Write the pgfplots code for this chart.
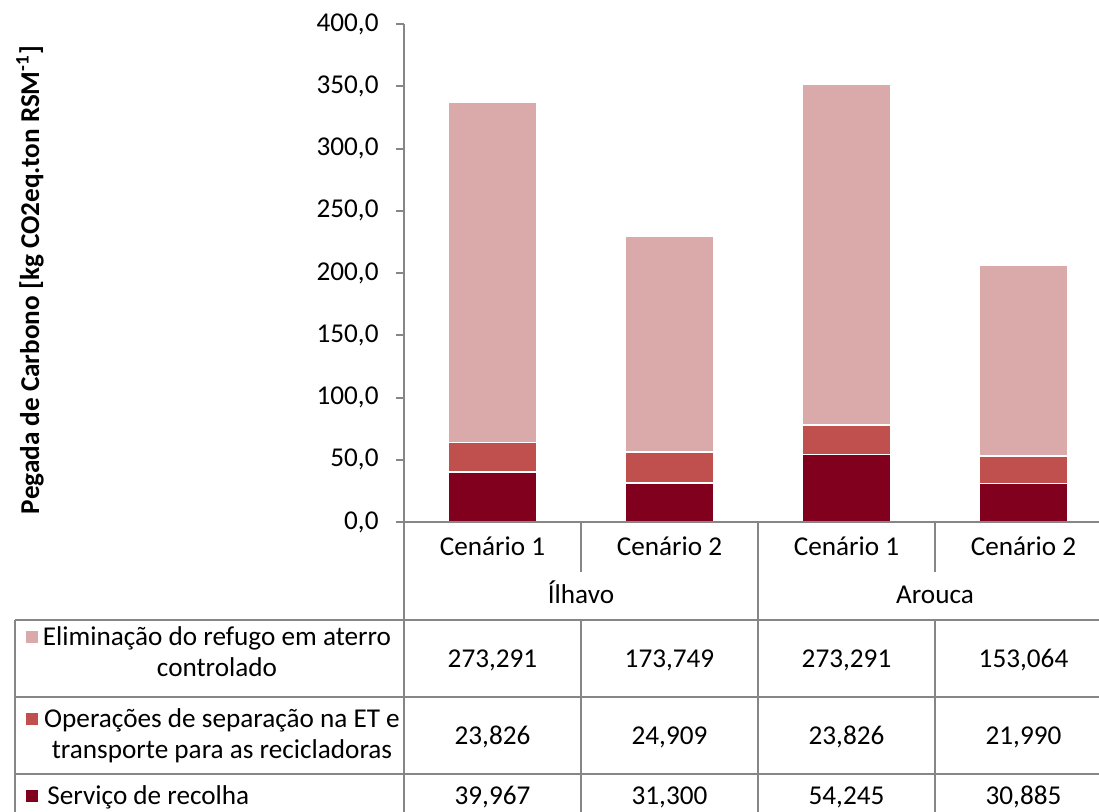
\documentclass[border=0pt]{standalone}
\usepackage{fontspec}
\setmainfont{Carlito}
\usepackage{pgfplots}
\pgfplotsset{compat=1.18}
\usepackage{pgfplotstable}

\definecolor{recolha}{RGB}{128,0,30}
\definecolor{separacao}{RGB}{192,80,77}
\definecolor{aterro}{RGB}{218,169,169}
\definecolor{linegray}{RGB}{134,134,134}

% Pegada de carbono por componente (kg CO2eq por ton RSM)
\pgfplotstableread{
x recolha separacao aterro
0 39.967 23.826 273.291
1 31.300 24.909 173.749
2 54.245 23.826 273.291
3 30.885 21.990 153.064
}\carbono

\newcommand{\chartfont}{\fontsize{13.6}{16}\selectfont}

\begin{document}
\chartfont
\begin{tikzpicture}
% page area: 1099 x 811 units of 0.5pt, origin of the axis at (404,522)
\useasboundingbox (-202pt,-144.5pt) rectangle (347.5pt,261pt);
\clip (-202pt,-144.5pt) rectangle (347.5pt,261pt);

\begin{axis}[
  at={(0pt,0pt)}, anchor=south west,
  scale only axis, width=354pt, height=249pt,
  xmin=-0.5, xmax=3.5, ymin=0, ymax=400,
  ybar stacked, bar width=0.503,
  axis lines*=left,
  axis line style={linegray, line width=1pt},
  xtick=\empty,
  ytick={0,50,...,400},
  tick align=outside, major tick length=4pt,
  tick style={linegray, line width=1pt},
  yticklabel style={font=\chartfont, text=black, xshift=-4pt,
    /pgf/number format/.cd, fixed, fixed zerofill, precision=1, use comma, assume math mode=true},
  every axis plot/.append style={draw=white, line width=0.8pt},
]
\addplot[fill=recolha] table[x=x, y=recolha] {\carbono};
\addplot[fill=separacao] table[x=x, y=separacao] {\carbono};
\addplot[fill=aterro] table[x=x, y=aterro] {\carbono};
\end{axis}

\begin{scope}[shift={(-202pt,261pt)}, x=0.5pt, y=-0.5pt]
  % y-axis title
  \node[rotate=90, font=\chartfont\bfseries] at (30,280)
    {Pegada de Carbono [kg CO2eq.ton RSM\textsuperscript{-1}]};

  % data table grid
  \begin{scope}[draw=linegray, line width=1pt]
    \draw (404,522) -- (1112,522);
    \draw (15,620) -- (1112,620);
    \draw (15,697) -- (1112,697);
    \draw (15,774) -- (1112,774);
    \draw (15,816) -- (1112,816);
    \draw (15,620) -- (15,816);
    \draw (404,522) -- (404,816);
    \draw (581,522) -- (581,572);
    \draw (581,620) -- (581,816);
    \draw (758,522) -- (758,816);
    \draw (935,522) -- (935,572);
    \draw (935,620) -- (935,816);
  \end{scope}

  % category labels
  \begin{scope}[every node/.style={anchor=base, inner sep=0pt, font=\chartfont}]
    \node at (492.5,555) {Cenário 1};
    \node at (669.5,555) {Cenário 2};
    \node at (846.5,555) {Cenário 1};
    \node at (1023.5,555) {Cenário 2};
    \node at (581,603) {Ílhavo};
    \node at (935,603) {Arouca};

    % series names with their keys
    \node at (217,645) {Eliminação do refugo em aterro};
    \node at (217,676) {controlado};
    \node at (222,727) {Operações de separação na ET e};
    \node at (222,758) {transporte para as recicladoras};
    \node[anchor=base west] at (47,804) {Serviço de recolha};

    % values
    \node at (492.5,667) {273,291};
    \node at (669.5,667) {173,749};
    \node at (846.5,667) {273,291};
    \node at (1023.5,667) {153,064};
    \node at (492.5,744) {23,826};
    \node at (669.5,744) {24,909};
    \node at (846.5,744) {23,826};
    \node at (1023.5,744) {21,990};
    \node at (492.5,804) {39,967};
    \node at (669.5,804) {31,300};
    \node at (846.5,804) {54,245};
    \node at (1023.5,804) {30,885};
  \end{scope}

  \fill[aterro] (26,631) rectangle (38,643);
  \fill[separacao] (26,713) rectangle (38,725);
  \fill[recolha] (26,790) rectangle (38,802);
\end{scope}
\end{tikzpicture}
\end{document}
